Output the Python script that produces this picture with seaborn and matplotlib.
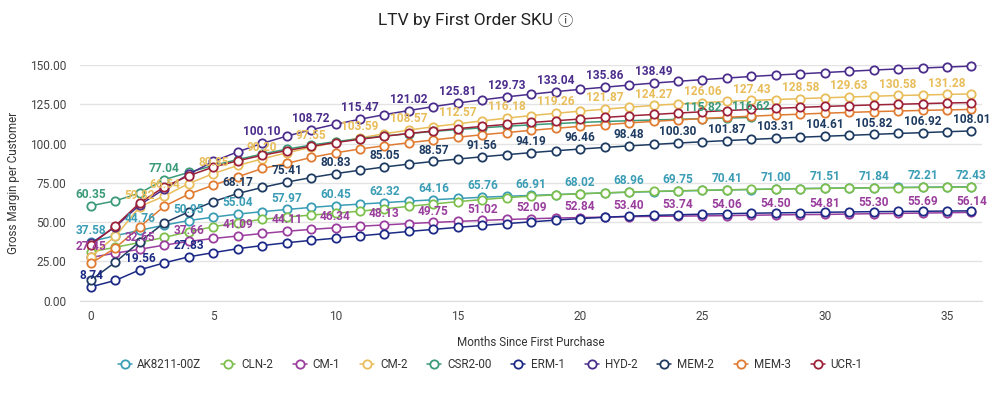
import matplotlib
matplotlib.use("Agg")
import matplotlib.pyplot as plt
import seaborn as sns

# months since first purchase
months = list(range(37))

skus = ["AK8211-00Z", "CLN-2", "CM-1", "CM-2", "CSR2-00",
        "ERM-1", "HYD-2", "MEM-2", "MEM-3", "UCR-1"]

colors = ["#3a9db5", "#7dbf4c", "#9a3e9e", "#e8bd5a", "#3b9a78",
          "#1c2a86", "#4b2d8c", "#1e3b62", "#e07b32", "#9c2138"]

ak8211 = [37.58, 41.3, 44.76, 48.0, 50.95, 53.1, 55.04, 56.6, 57.97, 59.3,
          60.45, 61.4, 62.32, 63.3, 64.16, 65.0, 65.76, 66.4, 66.91, 67.5,
          68.02, 68.5, 68.96, 69.4, 69.75, 70.1, 70.41, 70.7, 71.00, 71.3,
          71.51, 71.7, 71.84, 72.0, 72.21, 72.3, 72.43]
cln2 = [31.0, 33.9, 37.0, 40.2, 43.8, 47.0, 49.5, 51.7, 53.2, 54.4,
        55.6, 56.9, 58.4, 60.0, 61.5, 63.0, 64.3, 65.5, 66.5, 67.3,
        68.0, 68.6, 69.1, 69.5, 69.9, 70.2, 70.5, 70.8, 71.0, 71.2,
        71.4, 71.6, 71.8, 71.9, 72.0, 72.1, 72.2]
cm1 = [27.45, 30.2, 32.65, 35.3, 37.66, 39.5, 41.09, 42.7, 44.11, 45.3,
       46.34, 47.3, 48.13, 49.0, 49.75, 50.4, 51.02, 51.6, 52.09, 52.5,
       52.84, 53.1, 53.40, 53.6, 53.74, 53.9, 54.06, 54.3, 54.50, 54.7,
       54.81, 55.1, 55.30, 55.5, 55.69, 55.9, 56.14]
cm2 = [28.0, 41.0, 59.82, 66.54, 74.5, 80.85, 86.0, 90.20, 94.1, 97.55,
       100.7, 103.59, 106.2, 108.57, 110.7, 112.57, 114.4, 116.18, 117.8, 119.26,
       120.6, 121.87, 123.1, 124.27, 125.2, 126.06, 126.8, 127.43, 128.0, 128.58,
       129.1, 129.63, 130.1, 130.58, 130.9, 131.28, 131.6]
csr200 = [60.35, 63.5, 68.5, 77.04, 81.6, 86.0, 89.8, 93.3, 96.4, 99.0,
          101.2, 103.1, 104.8, 106.3, 107.7, 108.9, 110.0, 111.0, 111.9, 112.7,
          113.4, 114.0, 114.5, 115.0, 115.4, 115.82, 116.2, 116.62]
erm1 = [8.74, 12.8, 19.56, 24.0, 27.83, 30.5, 33.0, 35.0, 36.8, 38.3,
        39.7, 41.2, 42.6, 44.0, 45.3, 46.6, 47.8, 49.0, 50.1, 51.2,
        52.2, 53.0, 53.7, 54.2, 54.6, 55.0, 55.3, 55.6, 55.8, 56.0,
        56.2, 56.4, 56.6, 56.7, 56.8, 57.0, 57.1]
hyd2 = [36.5, 47.0, 61.0, 71.0, 80.5, 88.6, 94.7, 100.10, 104.7, 108.72,
        112.3, 115.47, 118.4, 121.02, 123.5, 125.81, 127.8, 129.73, 131.4, 133.04,
        134.5, 135.86, 137.2, 138.49, 139.6, 140.7, 141.7, 142.7, 143.6, 144.4,
        145.2, 146.0, 146.8, 147.5, 148.1, 148.7, 149.3]
mem2 = [13.0, 24.5, 37.5, 49.5, 56.5, 63.0, 68.17, 72.0, 75.41, 78.3,
        80.83, 83.0, 85.05, 86.9, 88.57, 90.1, 91.56, 92.9, 94.19, 95.4,
        96.46, 97.5, 98.48, 99.4, 100.30, 101.1, 101.87, 102.6, 103.31, 104.0,
        104.61, 105.2, 105.82, 106.4, 106.92, 107.5, 108.01]
mem3 = [23.7, 33.5, 47.0, 60.1, 67.8, 73.5, 78.8, 84.1, 87.3, 91.1,
        94.1, 96.5, 98.6, 100.5, 102.3, 104.0, 105.6, 107.0, 108.4, 109.7,
        110.9, 112.0, 113.1, 114.1, 115.0, 115.9, 116.7, 117.4, 118.1, 118.7,
        119.3, 119.8, 120.3, 120.7, 121.1, 121.4, 121.7]
ucr1 = [35.5, 47.6, 62.3, 72.4, 79.5, 85.0, 89.0, 92.5, 95.5, 98.2,
        100.6, 102.7, 104.6, 106.4, 108.0, 109.5, 110.9, 112.2, 113.4, 114.5,
        115.6, 116.6, 117.6, 118.5, 119.4, 120.2, 121.0, 121.7, 122.4, 123.0,
        123.6, 124.1, 124.6, 125.0, 125.4, 125.8, 126.1]

series = [ak8211, cln2, cm1, cm2, csr200, erm1, hyd2, mem2, mem3, ucr1]

# months whose value is printed on the chart
even_all = list(range(0, 37, 2))
label_months = [
    even_all,
    [],
    even_all,
    [2, 3] + list(range(5, 36, 2)),
    [0, 3, 25, 27],
    [0, 2, 4],
    list(range(7, 24, 2)),
    list(range(6, 37, 2)),
    [],
    [],
]

sns.set_style("white")
plt.rcParams["font.family"] = ["Roboto", "DejaVu Sans"]

fig = plt.figure(figsize=(10, 3.94), dpi=100)
ax = fig.add_axes([0.08, 0.2373, 0.902, 0.5977])

for name, vals, col in zip(skus, series, colors):
    sns.lineplot(
        x=months[:len(vals)], y=vals, ax=ax, color=col, label=name,
        linewidth=1.1, marker="o", markersize=6.0,
        markerfacecolor="white", markeredgecolor=col, markeredgewidth=1.3,
        clip_on=False,
    )

for vals, col, lm in zip(series, colors, label_months):
    for m in lm:
        ax.annotate(
            f"{vals[m]:.2f}", (m, vals[m]), xytext=(0, 3.5),
            textcoords="offset points", ha="center", va="bottom",
            fontsize=8.6, fontweight="bold", color=col, zorder=5,
        )

ax.set_xlim(-0.45, 36.43)
ax.set_ylim(0, 150)
ax.set_yticks([0, 25, 50, 75, 100, 125, 150])
ax.set_yticklabels([f"{v:.2f}" for v in [0, 25, 50, 75, 100, 125, 150]])
ax.set_xticks([0, 5, 10, 15, 20, 25, 30, 35])
ax.tick_params(axis="both", length=0, labelsize=8.6, labelcolor="#444444")
ax.tick_params(axis="y", pad=10)
ax.tick_params(axis="x", pad=7)
ax.grid(axis="y", color="#e3e3e3", linewidth=1)
ax.set_axisbelow(True)
for side in ["top", "right", "left"]:
    ax.spines[side].set_visible(False)
ax.spines["bottom"].set_color("#dcdcdc")

ax.set_xlabel("Months Since First Purchase", fontsize=8.4, color="#333333", labelpad=9)
ax.set_ylabel("Gross Margin per Customer", fontsize=8.4, color="#333333", labelpad=7)

fig.text(0.465, 0.948, "LTV by First Order SKU", ha="center", va="center",
         fontsize=12.5, color="#222222")
fig.text(0.565, 0.945, "\u24d8", ha="center", va="center",
         fontsize=11, color="#444444",
         family=["Noto Sans CJK SC", "DejaVu Sans"])

handles, labels = ax.get_legend_handles_labels()
ax.legend(handles, labels, loc="center", bbox_to_anchor=(0.49, 0.074),
          bbox_transform=fig.transFigure, ncol=10, frameon=False,
          fontsize=8.4, handlelength=1.2, handletextpad=0.5,
          columnspacing=1.7, labelcolor="#333333")

fig.savefig("out.png", dpi=100)
